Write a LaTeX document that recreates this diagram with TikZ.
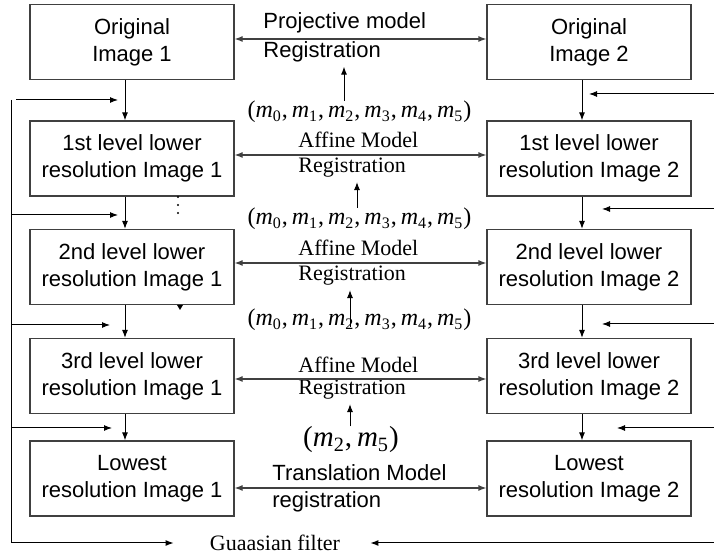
\documentclass[tikz,border=0pt]{standalone}
\usepackage{fontspec}
\setmainfont{Liberation Serif}
\setsansfont{Liberation Sans}
\usetikzlibrary{arrows.meta}
\newcommand{\mpar}[1]{\textit{m}\textsubscript{#1}}

\begin{document}
\begin{tikzpicture}[x=0.5pt,y=-0.5pt,
    box/.style={draw=black!75, line width=0.6pt, minimum width=102pt,
      minimum height=37.5pt, inner sep=0pt, align=center,
      font=\sffamily\fontsize{11}{13.5}\selectfont},
    flow/.style={-{Latex[length=4pt,width=3pt]}, line width=0.5pt},
    twoway/.style={{Latex[length=4pt,width=3pt]}-{Latex[length=4pt,width=3pt]},
      line width=0.6pt, black!75},
    lbl/.style={anchor=west, inner sep=0pt, font=\sffamily\fontsize{11}{13}\selectfont},
    lblrm/.style={anchor=west, inner sep=0pt, font=\fontsize{11}{13}\selectfont},
    params/.style={inner sep=0pt, font=\fontsize{12}{14}\selectfont}]
  \useasboundingbox (0,0) rectangle (714,555);

  % pyramid of image 1
  \node[box] (a0) at (132,42) {Original\\Image 1};
  \node[box] (a1) at (132,158.5) {1st level lower\\resolution Image 1};
  \node[box] (a2) at (132,267) {2nd level lower\\resolution Image 1};
  \node[box] (a3) at (132,376) {3rd level lower\\resolution Image 1};
  \node[box] (a4) at (132,478.5) {Lowest\\resolution Image 1};
  % pyramid of image 2
  \node[box] (b0) at (589,42) {Original\\Image 2};
  \node[box] (b1) at (589,158.5) {1st level lower\\resolution Image 2};
  \node[box] (b2) at (589,267) {2nd level lower\\resolution Image 2};
  \node[box] (b3) at (589,376) {3rd level lower\\resolution Image 2};
  \node[box] (b4) at (589,478.5) {Lowest\\resolution Image 2};

  \foreach \i/\j in {0/1,1/2,2/3,3/4} {
    \draw[flow] ([xshift=-3.5pt]a\i.south) -- ([xshift=-3.5pt]a\j.north);
    \draw[flow] ([xshift=-3.5pt]b\i.south) -- ([xshift=-3.5pt]b\j.north);
  }
  \foreach \y in {197,205,213}
    \fill (178,\y) circle (0.6pt);
  \fill (177,305) -- (183,305) -- (180,310) -- cycle;

  % registration between the two levels
  \node[lbl] (m0) at (263,23) {Projective model};
  \node[lbl] (r0) at (263,52) {Registration};
  \draw[twoway] ([yshift=1.5pt]a0.east) -- ([yshift=1.5pt]b0.west);
  \node[params] (p0) at (359.5,112)
    {(\mpar{0},\,\mpar{1},\,\mpar{2},\,\mpar{3},\,\mpar{4},\,\mpar{5})};
  \draw[flow,shorten >=2pt] ([xshift=-7.75pt]p0.north) -- ([xshift=-7.75pt]p0.north |- r0.south);

  \node[lblrm] (m1) at (298,140) {Affine Model};
  \node[lblrm] (r1) at (298,168) {Registration};
  \draw[twoway] ([yshift=1.75pt]a1.east) -- ([yshift=1.75pt]b1.west);
  \node[params] (p1) at (359.5,219)
    {(\mpar{0},\,\mpar{1},\,\mpar{2},\,\mpar{3},\,\mpar{4},\,\mpar{5})};
  \draw[flow,shorten >=2pt] ([xshift=-1.25pt]p1.north) -- ([xshift=-1.25pt]p1.north |- r1.south);

  \node[lblrm] (m2) at (298,248) {Affine Model};
  \node[lblrm] (r2) at (298,276) {Registration};
  \draw[twoway] ([yshift=2pt]a2.east) -- ([yshift=2pt]b2.west);
  \node[params] (p2) at (359.5,320)
    {(\mpar{0},\,\mpar{1},\,\mpar{2},\,\mpar{3},\,\mpar{4},\,\mpar{5})};
  \draw[flow,shorten >=2pt] ([xshift=-4.75pt,yshift=-3.5pt]p2.center) -- ([xshift=-4.75pt]p2.center |- r2.south);

  \node[lblrm] (m3) at (298,365) {Affine Model};
  \node[lblrm] (r3) at (298,390) {Registration};
  \draw[twoway] ([yshift=-1.5pt]a3.east) -- ([yshift=-1.5pt]b3.west);
  \node[params, font=\fontsize{14.5}{16}\selectfont] (p3) at (351,440)
    {(\mpar{2},\,\mpar{5})};
  \draw[flow,shorten >=2pt] ([xshift=-0.5pt]p3.north) -- ([xshift=-0.5pt]p3.north |- r3.south);

  \node[lbl] (m4) at (272,473) {Translation Model};
  \node[lbl] (r4) at (272,502) {registration};
  \draw[twoway] ([yshift=-4.75pt]a4.east) -- ([yshift=-4.75pt]b4.west);

  % gaussian filter feeding each level
  \node[font=\fontsize{11}{13}\selectfont, inner sep=0pt] (g) at (275,543) {Guaasian filter};
  \draw[flow] (16,100) -- (118,100);
  \draw[flow, shorten >=18pt] (11,100) |- (g.west);
  \foreach \y/\t in {215/118, 325/110, 428/112}
    \draw[flow] (11,\y) -- (\t,\y);
  \foreach \y/\t in {94/589, 209/602, 324/602, 428/617}
    \draw[flow] (714,\y) -- (\t,\y);
  \draw[flow, shorten >=15pt] (714,543) -- (714,543 -| g.east);
\end{tikzpicture}
\end{document}
